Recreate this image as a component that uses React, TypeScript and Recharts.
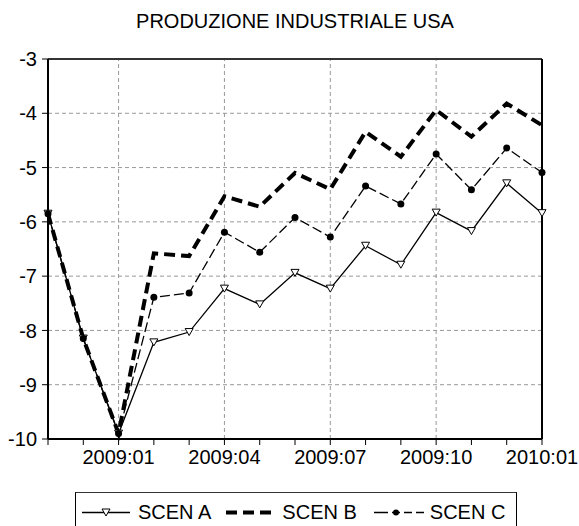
import React from 'react';
import { LineChart, Line, XAxis, YAxis, CartesianGrid, ReferenceLine, Legend } from 'recharts';

const MONTHS = [
  '2008:11', '2008:12', '2009:01', '2009:02', '2009:03', '2009:04', '2009:05', '2009:06',
  '2009:07', '2009:08', '2009:09', '2009:10', '2009:11', '2009:12', '2010:01',
];
const QUARTER_LABELS = ['2009:01', '2009:04', '2009:07', '2009:10', '2010:01'];
const Y_TICKS = [-10, -9, -8, -7, -6, -5, -4, -3];

const SCEN_A = [-5.85, -8.15, -9.9, -8.22, -8.03, -7.23, -7.52, -6.94, -7.23, -6.44, -6.79, -5.83, -6.17, -5.29, -5.84];
const SCEN_B = [-5.85, -8.15, -9.9, -6.58, -6.63, -5.53, -5.72, -5.1, -5.4, -4.34, -4.8, -3.94, -4.43, -3.82, -4.22];
const SCEN_C = [-5.85, -8.15, -9.9, -7.39, -7.31, -6.19, -6.56, -5.92, -6.28, -5.34, -5.67, -4.75, -5.41, -4.64, -5.09];

const FONT = '"Liberation Sans", Arial, sans-serif';

const data = MONTHS.map((m, i) => ({ month: m, a: SCEN_A[i], b: SCEN_B[i], c: SCEN_C[i] }));

const TriangleDot = (props: any) => {
  const { cx, cy } = props;
  if (cx == null || cy == null) return null;
  return (
    <path
      d={`M${cx - 4},${cy - 3.5} L${cx + 4},${cy - 3.5} L${cx},${cy + 3.5} Z`}
      fill="#fff"
      stroke="#000"
      strokeWidth={1}
    />
  );
};

const LegendBox = () => (
  <div
    style={{
      boxSizing: 'border-box',
      width: 442,
      height: 40,
      borderTop: '1px solid #333',
      borderLeft: '1px solid #000',
      borderRight: '1px solid #000',
      display: 'flex',
      alignItems: 'flex-start',
      paddingTop: 8,
      paddingLeft: 6,
      fontFamily: FONT,
      fontSize: 20,
      color: '#000',
      lineHeight: '23px',
    }}
  >
    <svg width={48} height={23} style={{ marginRight: 8 }}>
      <line x1={0} x2={48} y1={11.5} y2={11.5} stroke="#000" strokeWidth={1.3} />
      <path d="M20,8 L28,8 L24,15 Z" fill="#fff" stroke="#000" strokeWidth={1} />
    </svg>
    <span>SCEN A</span>
    <svg width={48} height={23} style={{ marginLeft: 15, marginRight: 8 }}>
      <line x1={0} x2={48} y1={11.5} y2={11.5} stroke="#000" strokeWidth={4} strokeDasharray="11 6" />
    </svg>
    <span>SCEN B</span>
    <svg width={50} height={23} style={{ marginLeft: 17, marginRight: 6 }}>
      <line x1={0} x2={50} y1={11.5} y2={11.5} stroke="#000" strokeWidth={1.3} strokeDasharray="14 4 8 4 8 4" />
      <circle cx={22} cy={11.5} r={3} fill="#000" />
    </svg>
    <span>SCEN C</span>
  </div>
);

export default function App() {
  return (
    <div style={{ position: 'absolute', left: 0, top: 0, width: 579, height: 526, background: '#fff' }}>
      <LineChart width={579} height={526} data={data} margin={{ top: 59, right: 37, bottom: 17, left: 0 }}>
        <CartesianGrid vertical={false} stroke="#999" strokeDasharray="4 3" />
        {QUARTER_LABELS.map((q) => (
          <ReferenceLine key={q} x={q} stroke="#999" strokeDasharray="4 3" />
        ))}
        <XAxis
          dataKey="month"
          interval={0}
          height={30}
          tickSize={6}
          tickMargin={5}
          tickFormatter={(v: string) => (QUARTER_LABELS.includes(v) ? v : '')}
          tick={{ fill: '#000', fontSize: 20, fontFamily: FONT }}
          axisLine={{ stroke: '#000', strokeWidth: 2 }}
          tickLine={{ stroke: '#000' }}
        />
        <YAxis
          type="number"
          domain={[-10, -3]}
          ticks={Y_TICKS}
          width={48}
          tickSize={6}
          tickMargin={5}
          tick={{ fill: '#000', fontSize: 20, fontFamily: FONT }}
          axisLine={{ stroke: '#000', strokeWidth: 2 }}
          tickLine={{ stroke: '#000' }}
        />
        <ReferenceLine y={-3} stroke="#333" strokeWidth={2} />
        <ReferenceLine x="2010:01" stroke="#000" strokeWidth={2} />
        <Line
          dataKey="a"
          name="SCEN A"
          stroke="#000"
          strokeWidth={1.3}
          dot={<TriangleDot />}
          activeDot={false}
          isAnimationActive={false}
        />
        <Line
          dataKey="c"
          name="SCEN C"
          stroke="#000"
          strokeWidth={1.3}
          strokeDasharray="10 4"
          dot={{ r: 3.5, fill: '#000', stroke: '#000', strokeWidth: 0 }}
          activeDot={false}
          isAnimationActive={false}
        />
        <Line
          dataKey="b"
          name="SCEN B"
          stroke="#000"
          strokeWidth={4}
          strokeDasharray="11 6"
          dot={false}
          activeDot={false}
          isAnimationActive={false}
        />
        <Legend
          content={() => <LegendBox />}
          wrapperStyle={{ position: 'absolute', left: 75, top: 492, width: 442, height: 40, bottom: 'auto' }}
        />
        <text x={295} y={28} textAnchor="middle" fontFamily={FONT} fontSize={20} fill="#000">
          PRODUZIONE INDUSTRIALE USA
        </text>
      </LineChart>
    </div>
  );
}
